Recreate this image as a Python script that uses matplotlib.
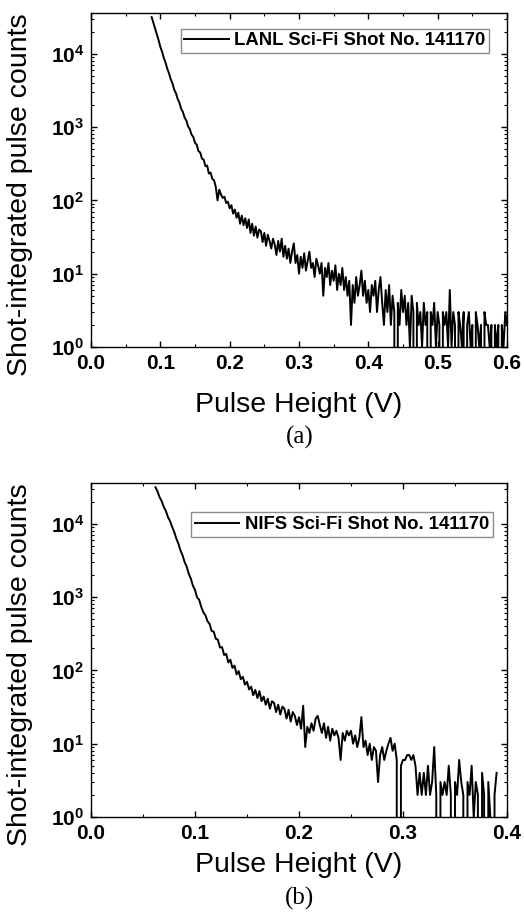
import numpy as np
import matplotlib
matplotlib.use("Agg")
import matplotlib.pyplot as plt
from matplotlib.ticker import MultipleLocator, LogLocator, FuncFormatter, NullFormatter

# ---------------- data ----------------
# (a) LANL Sci-Fi: pulse-height histogram, bins start / width in volts
lanl_label = "LANL Sci-Fi Shot No. 141170"
lanl_x_start = 0.0875
lanl_x_step = 0.0025
lanl_counts = [
    31600, 26300, 21900, 18000, 15300, 12400, 10700, 8800, 7600, 6250,
    5420, 4500, 3950, 3250, 2900, 2420, 2150, 1780, 1610, 1350,
    1230, 1020, 940, 790, 735, 610, 575, 470, 450, 372,
    360, 292, 300, 232, 240, 196, 188, 152, 100, 140,
    120, 108, 112, 92, 96, 78, 86, 66, 75, 58,
    68, 48, 62, 46, 57, 42, 55, 36, 48, 33,
    44, 31, 40, 38, 27, 36, 24, 34, 28, 22,
    30, 25, 18, 28, 20, 30, 17, 24, 16, 22,
    14, 20, 26, 14, 18, 10, 17, 12, 19, 11,
    15, 20, 12, 14, 9, 16, 13, 10, 14, 5,
    12, 9, 14, 7, 11, 8, 13, 6, 10, 7,
    12, 6, 9, 5, 8, 2, 7, 4, 9, 5,
    7, 11, 5, 8, 4, 6, 3, 7, 5, 8,
    3, 6, 9, 4, 2, 6, 3, 7, 2, 5,
    3, 0, 4, 2, 6, 3, 5, 2, 4, 1,
    5, 3, 0, 4, 2, 3, 1, 4, 2, 3,
    0, 3, 2, 4, 1, 3, 2, 0, 3, 2,
    3, 1, 6, 1, 3, 2, 0, 3, 2, 1,
    3, 0, 2, 3, 1, 2, 0, 3, 2, 1,
    2, 0, 3, 2, 2, 1, 2, 0, 2, 1,
    2, 0, 2, 1, 3, 2,
]

# (b) NIFS Sci-Fi
nifs_label = "NIFS Sci-Fi Shot No. 141170"
nifs_x_start = 0.062
nifs_x_step = 0.002
nifs_counts = [
    31600, 27500, 23000, 20300, 16900, 15000, 12300, 10900, 9100, 7750,
    6300, 5380, 4350, 3720, 3010, 2600, 2080, 1790, 1430, 1250,
    990, 920, 735, 620, 565, 470, 430, 345, 338, 270,
    262, 205, 208, 162, 168, 128, 140, 108, 116, 88,
    98, 76, 82, 64, 70, 55, 60, 46, 54, 42,
    52, 38, 44, 34, 41, 30, 38, 36, 27, 34,
    25, 32, 30, 22, 29, 20, 27, 24, 18, 23,
    16, 33, 9, 17, 14, 19, 15, 22, 24, 18,
    14, 19, 12, 17, 11, 16, 13, 15, 12, 6,
    14, 11, 15, 13, 15, 10, 13, 9, 12, 23,
    9, 11, 7, 10, 6, 9, 8, 3, 7, 9,
    6, 8, 10, 12, 8, 10, 6, 0, 5, 6,
    6, 7, 7, 6, 7, 5, 2, 4, 2, 4,
    2, 5, 2, 3, 9, 2, 0, 3, 2, 3,
    2, 5, 2, 0, 3, 2, 6, 3, 2, 0,
    3, 2, 5, 1, 3, 2, 0, 4, 2, 0,
    3, 1, 0, 2, 4,
]

panels = [
    dict(label=lanl_label, x0=lanl_x_start, dx=lanl_x_step, counts=lanl_counts,
         xmax=0.6, tag="(a)"),
    dict(label=nifs_label, x0=nifs_x_start, dx=nifs_x_step, counts=nifs_counts,
         xmax=0.4, tag="(b)"),
]

x_label = "Pulse Height (V)"
y_label = "Shot-integrated pulse counts"
y_min, y_max = 1, 36000

# ---------------- style ----------------
plt.rcParams["font.family"] = ["Liberation Sans", "DejaVu Sans"]
plt.rcParams["mathtext.fontset"] = "custom"
plt.rcParams["mathtext.rm"] = "Liberation Sans"
plt.rcParams["mathtext.bf"] = "Liberation Sans:bold"

fig = plt.figure(figsize=(5.24, 9.18), dpi=100)

ax_rects = [
    [91 / 524, 1 - 347 / 918, 416 / 524, 334 / 918],
    [91 / 524, 1 - 817 / 918, 416 / 524, 334 / 918],
]
legend_anchor = [(0.957, 0.953), (0.966, 0.912)]
xlabel_y = [405, 865]
tag_y = [437, 898]

for i, p in enumerate(panels):
    ax = fig.add_axes(ax_rects[i])
    counts = np.array(p["counts"], dtype=float)
    x = p["x0"] + p["dx"] * np.arange(len(counts))
    ax.plot(x, counts, color="black", lw=1.4, label=p["label"])
    ax.set_yscale("log", nonpositive="clip")
    ax.set_xlim(0, p["xmax"])
    ax.set_ylim(y_min, y_max)

    ax.xaxis.set_major_locator(MultipleLocator(0.1))
    ax.xaxis.set_minor_locator(MultipleLocator(0.05))
    ax.xaxis.set_major_formatter(FuncFormatter(lambda v, pos: f"{v:.1f}"))
    ax.yaxis.set_major_locator(LogLocator(base=10, numticks=10))
    ax.yaxis.set_minor_locator(LogLocator(base=10, subs=np.arange(2, 10), numticks=20))
    ax.yaxis.set_minor_formatter(NullFormatter())
    ax.yaxis.set_major_formatter(
        FuncFormatter(lambda v, pos: r"$\mathbf{10^{%d}}$" % int(round(np.log10(v)))))

    ax.tick_params(which="both", direction="in", top=True, right=True)
    ax.tick_params(which="major", length=4, width=1.0, labelsize=15)
    ax.tick_params(axis="x", which="major", pad=5)
    ax.tick_params(axis="y", which="major", pad=5)
    ax.tick_params(which="minor", length=2.3, width=0.8)
    for lab in ax.get_xticklabels() + ax.get_yticklabels():
        lab.set_fontweight("bold")
    for s in ax.spines.values():
        s.set_linewidth(1.0)

    ax.set_ylabel(y_label, fontsize=20.5)
    ax.yaxis.set_label_coords(-0.14, 0.455)

    fig.text(299 / 524, 1 - xlabel_y[i] / 918, x_label, fontsize=20.5,
             ha="center", va="center")
    fig.text(300 / 524, 1 - tag_y[i] / 918, p["tag"], fontsize=18,
             family="Liberation Serif", ha="center", va="center")

    leg = ax.legend(loc="upper right", bbox_to_anchor=legend_anchor[i],
                    prop={"weight": "bold", "size": 13.3}, frameon=True,
                    fancybox=False, edgecolor="#8c8c8c", framealpha=1,
                    borderpad=0.2, handlelength=2.4, handletextpad=0.3,
                    borderaxespad=0)
    leg.get_frame().set_linewidth(1.0)

fig.savefig("out.png", dpi=100)
